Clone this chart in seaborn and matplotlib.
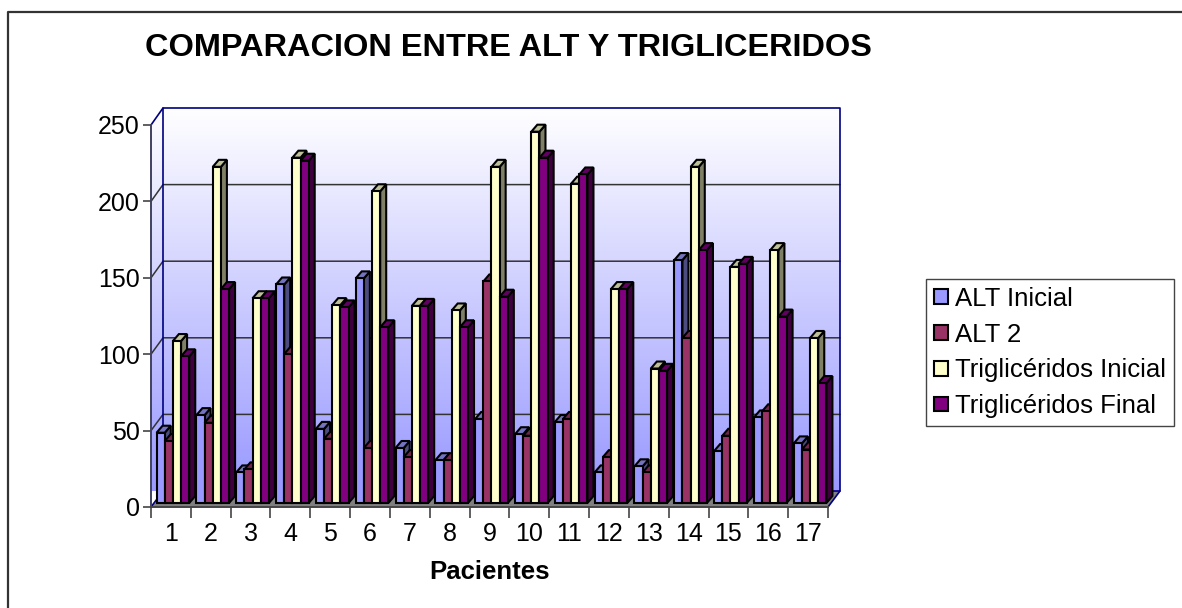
import matplotlib
matplotlib.use("Agg")
import matplotlib.pyplot as plt
from matplotlib.patches import Polygon
from matplotlib.ticker import FixedLocator, NullFormatter
import numpy as np
import pandas as pd
import seaborn as sns

pacientes = [str(i) for i in range(1, 18)]
alt_inicial = [46, 57.5, 20, 143, 48.5, 147, 36, 28, 55, 45, 53, 20, 24, 159, 34, 56, 39]
alt_2 = [40.5, 52.5, 22, 97.5, 42, 36, 30, 28, 145, 44, 55, 30, 20, 108, 44, 60, 35]
trig_inicial = [106, 220, 134, 226, 129.5, 204, 129, 126, 220, 243, 209, 140, 88, 220, 154.5, 165.5, 108]
trig_final = [96, 140, 134, 224, 128, 115, 129, 115, 135, 226, 215, 140, 86.5, 165.5, 156.5, 122, 78.5]
series = ["ALT Inicial", "ALT 2", "Triglicéridos Inicial", "Triglicéridos Final"]
y_ticks = [0, 50, 100, 150, 200, 250]

colores = ["#9999FF", "#993366", "#FFFFCC", "#800080"]
lados = ["#4C4C80", "#4D1A33", "#808066", "#400040"]
tapas = ["#7373BF", "#73264D", "#BFBF99", "#600060"]

W, H = 1182, 608

sns.set_theme(style="white")
plt.rcParams["font.family"] = ["Liberation Sans", "DejaVu Sans"]

df = pd.DataFrame({"Pacientes": pacientes * 4,
                   "Valor": alt_inicial + alt_2 + trig_inicial + trig_final,
                   "Serie": [s for s in series for _ in pacientes]})

fig = plt.figure(figsize=(W / 100, H / 100), dpi=100, facecolor="white")

# fondo en pixeles: paredes, piso, grilla y marco
bg = fig.add_axes([0, 0, 1, 1], zorder=0)
bg.set_xlim(0, W)
bg.set_ylim(H, 0)
bg.axis("off")
grad = np.linspace(0, 1, 256).reshape(-1, 1, 1)
img = (1 - grad) * np.array([1, 1, 1]) + grad * np.array([0.6, 0.6, 1])
im = bg.imshow(img, extent=(151, 840, 491, 108), aspect="auto", zorder=1)
bg.set_xlim(0, W)
bg.set_ylim(H, 0)
pared = Polygon([(151, 125), (163, 108), (840, 108), (840, 491), (828, 507), (151, 507)],
                closed=True, transform=bg.transData, facecolor="none", edgecolor="none")
bg.add_patch(pared)
im.set_clip_path(pared)
bg.add_patch(Polygon([(151, 507), (163, 491), (840, 491), (828, 507)], closed=True,
                     facecolor="#808080", edgecolor="none", zorder=2))
for v in y_ticks[1:-1]:
    yb = 491 - v * 1.532
    yf = 507 - v * 1.528
    bg.plot([151, 163, 840], [yf, yb, yb], color="#333333", lw=1.1, zorder=3)
bg.plot([163, 163], [491, 108], color="#000080", lw=1.2, zorder=3)
bg.plot([151, 163, 840, 840, 828], [125, 108, 108, 491, 507], color="#000080", lw=1.2, zorder=3)
bg.plot([151, 163, 840], [507, 491, 491], color="#000080", lw=1.2, zorder=3)
bg.plot([7.5, 7.5, W], [H, 12, 12], color="#333333", lw=1.6, zorder=3)

ax = fig.add_axes([151 / W, 1 - 507 / H, 677 / W, 382 / H], zorder=2)
ax.patch.set_visible(False)
sns.barplot(data=df, x="Pacientes", y="Valor", hue="Serie", hue_order=series, order=pacientes,
            palette=colores, width=0.82, gap=0, saturation=1, edgecolor="black", linewidth=1.5, ax=ax)
ax.set_xlim(-0.5, 16.5)
ax.set_ylim(0, 250)

# caras laterales y tapas de cada barra
px_x = 677 / 17
px_y = 382 / 250
dx, dy = 6 / px_x, 7 / px_y
shift_x, shift_y = 2 / px_x, 4 / px_y
barras = []
for j, cont in enumerate(ax.containers):
    for b in cont:
        barras.append((b, j))
barras.sort(key=lambda t: t[0].get_x())
for k, (b, j) in enumerate(barras):
    b.set_x(b.get_x() + shift_x)
    b.set_y(shift_y)
    b.set_clip_on(False)
    b.set_zorder(10 + k * 3 + 2)
    x0, w, h = b.get_x(), b.get_width(), b.get_height() + shift_y
    ax.add_patch(Polygon([(x0 + w, shift_y), (x0 + w + dx, shift_y + dy), (x0 + w + dx, h + dy), (x0 + w, h)],
                         closed=True, facecolor=lados[j], edgecolor="black", lw=1.5,
                         clip_on=False, zorder=10 + k * 3))
    ax.add_patch(Polygon([(x0, h), (x0 + dx, h + dy), (x0 + w + dx, h + dy), (x0 + w, h)],
                         closed=True, facecolor=tapas[j], edgecolor="black", lw=1.5,
                         clip_on=False, zorder=10 + k * 3 + 1))

ax.set_yticks(y_ticks)
ax.tick_params(axis="y", which="major", left=True, length=6, width=1.2, color="#444444",
               labelsize=18, pad=2, labelcolor="black")
ax.tick_params(axis="x", which="major", bottom=False, labelsize=18, pad=5, labelcolor="black")
ax.xaxis.set_minor_locator(FixedLocator(np.arange(-0.5, 17, 1)))
ax.xaxis.set_minor_formatter(NullFormatter())
ax.tick_params(axis="x", which="minor", bottom=True, length=8, width=1.2, color="#444444")
for s in ["top", "right"]:
    ax.spines[s].set_visible(False)
ax.spines["left"].set_color("#404060")
ax.spines["left"].set_linewidth(1.4)
ax.spines["bottom"].set_color("#444444")
ax.spines["bottom"].set_linewidth(1.4)
ax.set_ylabel("")
ax.set_xlabel("Pacientes", fontsize=18.5, fontweight="bold", labelpad=10, color="black")

handles, labels = ax.get_legend_handles_labels()
ax.legend(handles, labels, loc="upper left", bbox_to_anchor=(926 / W, 1 - 279 / H),
          bbox_transform=fig.transFigure, fontsize=18.5, frameon=True, fancybox=False,
          edgecolor="#444444", framealpha=1, title=None, handlelength=0.56, handleheight=0.5,
          handletextpad=0.28, labelspacing=0.46, borderpad=0.3, borderaxespad=0, labelcolor="black")

fig.text(145 / W, 1 - 56 / H, "COMPARACION ENTRE ALT Y TRIGLICERIDOS", fontsize=23.4,
         fontweight="bold", color="black", ha="left", va="baseline")

fig.savefig("out.png", dpi=100)
